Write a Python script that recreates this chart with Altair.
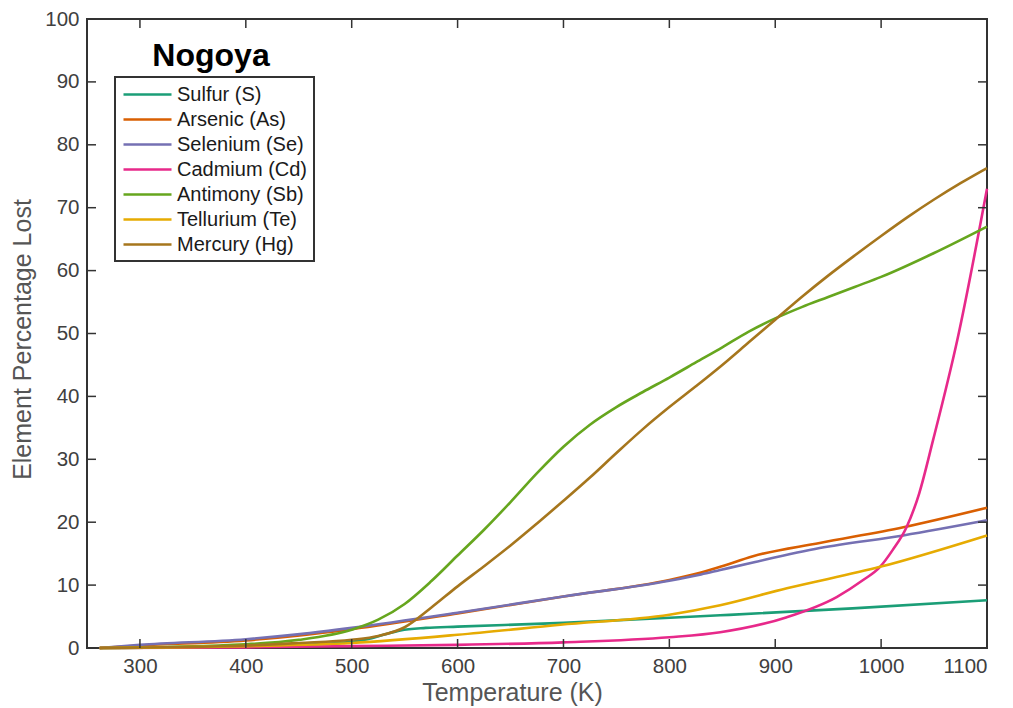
import altair as alt
import pandas as pd

series_names = ["Sulfur (S)", "Arsenic (As)", "Selenium (Se)", "Cadmium (Cd)",
                "Antimony (Sb)", "Tellurium (Te)", "Mercury (Hg)"]
series_colors = ["#1b9e77", "#d95f02", "#7570b3", "#e7298a", "#66a61e", "#e6ab02", "#a6761d"]

sulfur_T = [262, 400, 480, 500, 515, 530, 546, 570, 600, 700, 848, 973, 1100]
sulfur_V = [0, 0.3, 0.7, 1.0, 1.4, 2.1, 2.8, 3.2, 3.4, 4.0, 5.2, 6.3, 7.6]

arsenic_T = [262, 300, 400, 451, 500, 600, 700, 800, 830, 848, 879, 942, 1021, 1100]
arsenic_V = [0, 0.4, 1.2, 2.0, 3.0, 5.5, 8.2, 10.8, 12.0, 12.9, 14.6, 16.7, 19.2, 22.3]

selenium_T = [262, 300, 400, 451, 500, 600, 700, 800, 830, 848, 879, 942, 1021, 1100]
selenium_V = [0, 0.5, 1.4, 2.2, 3.2, 5.6, 8.2, 10.7, 11.7, 12.4, 13.6, 15.9, 17.9, 20.3]

cadmium_T = [262, 400, 500, 600, 700, 800, 848, 911, 958, 983, 999, 1011, 1024, 1036, 1049, 1072, 1100]
cadmium_V = [0, 0.1, 0.3, 0.5, 0.9, 1.7, 2.5, 4.9, 8.1, 10.8, 12.9, 15.6, 19.2, 24.6, 33.0, 49.0, 73.0]

antimony_T = [262, 400, 450, 500, 525, 550, 575, 600, 625, 650, 675, 700, 725, 750, 775, 800,
              825, 850, 875, 900, 925, 950, 975, 1000, 1050, 1100]
antimony_V = [0, 0.6, 1.3, 2.9, 4.5, 7.0, 10.6, 14.7, 18.8, 23.2, 27.8, 32.0, 35.5, 38.3, 40.7, 43.0,
              45.4, 47.8, 50.3, 52.4, 54.2, 55.8, 57.4, 59.0, 62.8, 67.0]

tellurium_T = [262, 400, 500, 600, 697, 800, 848, 911, 999, 1100]
tellurium_V = [0, 0.3, 0.8, 2.1, 3.7, 5.3, 6.8, 9.5, 12.9, 17.9]

mercury_T = [262, 400, 450, 500, 525, 550, 575, 600, 625, 650, 675, 700, 725, 750, 775, 800,
             825, 850, 875, 900, 925, 950, 975, 1000, 1025, 1050, 1075, 1100]
mercury_V = [0, 0.4, 0.8, 1.3, 1.9, 3.3, 6.4, 9.8, 13.0, 16.3, 19.8, 23.4, 27.1, 31.0, 34.8, 38.3,
             41.6, 45.0, 48.6, 52.2, 55.8, 59.2, 62.4, 65.5, 68.5, 71.3, 73.9, 76.3]

x_ticks = [300, 400, 500, 600, 700, 800, 900, 1000, 1100]
y_ticks = [0, 10, 20, 30, 40, 50, 60, 70, 80, 90, 100]

all_T = [sulfur_T, arsenic_T, selenium_T, cadmium_T, antimony_T, tellurium_T, mercury_T]
all_V = [sulfur_V, arsenic_V, selenium_V, cadmium_V, antimony_V, tellurium_V, mercury_V]

rows = []
for name, Ts, Vs in zip(series_names, all_T, all_V):
    for t, v in zip(Ts, Vs):
        rows.append({"name": name, "T": t, "V": v})
df = pd.DataFrame(rows)

W, H = 900, 629
FONT = "Liberation Sans"
x_scale = alt.Scale(domain=[250, 1100], nice=False, zero=False)
y_scale = alt.Scale(domain=[0, 100], nice=False)
x_axis = alt.Axis(title="Temperature (K)", values=x_ticks, format="d", titlePadding=4, titleX=425)
y_axis = alt.Axis(title="Element Percentage Lost", values=y_ticks, format="d", titlePadding=9,
                  titleY=320)

lines = alt.Chart(df).mark_line(strokeWidth=2.6, interpolate="monotone").encode(
    x=alt.X("T:Q", scale=x_scale, axis=x_axis),
    y=alt.Y("V:Q", scale=y_scale, axis=y_axis),
    color=alt.Color("name:N", scale=alt.Scale(domain=series_names, range=series_colors),
                    legend=alt.Legend(title=None, orient="none", legendX=28, legendY=58,
                                      strokeColor="#333333", fillColor="white", padding=6,
                                      labelFont=FONT, labelFontSize=20, labelColor="#1a1a1a",
                                      symbolType="M-2.4,0L2.4,0", symbolSize=400,
                                      symbolStrokeWidth=2.5, symbolOffset=15, labelOffset=18,
                                      rowPadding=3)),
)

xt = pd.DataFrame({"T": x_ticks})
yt = pd.DataFrame({"V": y_ticks})
tick_color = "#333333"

bottom_ticks = alt.Chart(xt).mark_rule(color=tick_color, strokeWidth=1.5).encode(
    x=alt.X("T:Q", scale=x_scale, axis=x_axis), y=alt.value(H), y2=alt.value(H - 9))
top_ticks = alt.Chart(xt).mark_rule(color=tick_color, strokeWidth=1.5).encode(
    x=alt.X("T:Q", scale=x_scale, axis=x_axis), y=alt.value(0), y2=alt.value(9))
left_ticks = alt.Chart(yt).mark_rule(color=tick_color, strokeWidth=1.5).encode(
    y=alt.Y("V:Q", scale=y_scale, axis=y_axis), x=alt.value(0), x2=alt.value(9))
right_ticks = alt.Chart(yt).mark_rule(color=tick_color, strokeWidth=1.5).encode(
    y=alt.Y("V:Q", scale=y_scale, axis=y_axis), x=alt.value(W), x2=alt.value(W - 9))

title_df = pd.DataFrame({"t": ["Nogoya"]})
title_text = alt.Chart(title_df).mark_text(font=FONT, fontSize=32, fontWeight="bold",
                                           align="center", baseline="middle", color="black").encode(
    x=alt.value(124), y=alt.value(37), text="t:N")

chart = alt.layer(lines, bottom_ticks, top_ticks, left_ticks, right_ticks, title_text).properties(
    width=W, height=H,
    padding={"left": 79, "top": 11, "right": 18, "bottom": 60},
    autosize=alt.AutoSizeParams(type="none"),
).configure_view(stroke="#333333", strokeWidth=2).configure_axis(
    labelFont=FONT, labelFontSize=20.5, labelColor="#404040", labelPadding=8,
    titleFont=FONT, titleFontSize=25, titleFontWeight="normal", titleColor="#555555",
    ticks=False, tickSize=0, domain=False, grid=False,
).configure_legend(strokeWidth=2)

chart.save("out.html", embed_options={"renderer": "svg", "actions": False})
